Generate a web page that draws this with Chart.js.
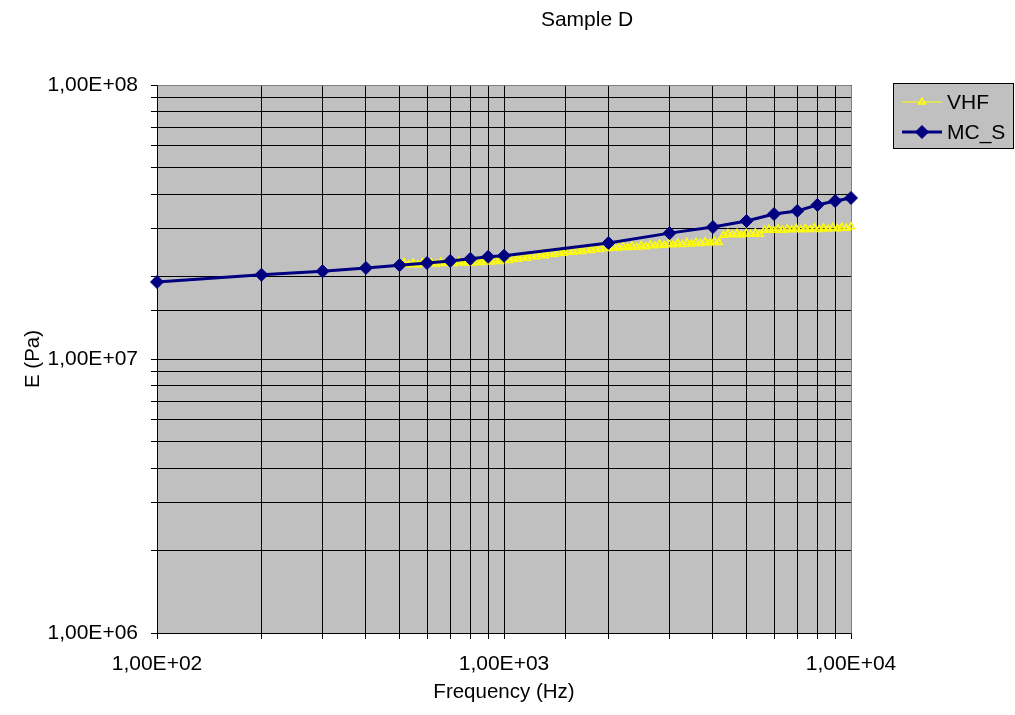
<!DOCTYPE html>
<html>
<head>
<meta charset="utf-8">
<script src="https://cdn.jsdelivr.net/npm/chart.js@4/dist/chart.umd.min.js"></script>
<style>
html,body{margin:0;padding:0;background:#fff;}
canvas{display:block;}
</style>
</head>
<body>
<canvas id="c" width="1015" height="715"></canvas>
<script>
const chartTitle = 'Sample D';
const xAxisTitle = 'Frequency (Hz)';
const yAxisTitle = 'E (Pa)';
const xTickValues = [100, 1000, 10000];
const xTickLabels = ['1,00E+02', '1,00E+03', '1,00E+04'];
const yTickValues = [1e6, 1e7, 1e8];
const yTickLabels = ['1,00E+06', '1,00E+07', '1,00E+08'];

const mcsName = 'MC_S';
const mcsFreq = [100, 200, 300, 400, 500, 600, 700, 800, 900, 1000, 2000, 3000, 4000, 5000, 6000, 7000, 8000, 9000, 10000];
const mcsE = [1.91e7, 2.03e7, 2.09e7, 2.15e7, 2.20e7, 2.24e7, 2.28e7, 2.32e7, 2.36e7, 2.38e7, 2.65e7, 2.88e7, 3.03e7, 3.19e7, 3.38e7, 3.47e7, 3.65e7, 3.77e7, 3.87e7];

const vhfName = 'VHF';
const vhfFreq = [500, 515, 531, 548, 564, 582, 600, 618, 637, 657,
  677, 698, 719, 741, 764, 787, 812, 837, 862, 889,
  916, 944, 973, 1003, 1034, 1066, 1098, 1132, 1167, 1203,
  1240, 1278, 1317, 1358, 1399, 1442, 1487, 1532, 1579, 1628,
  1678, 1729, 1782, 1837, 1894, 1952, 2012, 2074, 2137, 2203,
  2271, 2340, 2412, 2486, 2563, 2642, 2723, 2806, 2893, 2982,
  3073, 3168, 3265, 3365, 3469, 3575, 3685, 3798, 3915, 4035,
  4159, 4287, 4419, 4554, 4694, 4838, 4987, 5140, 5298, 5461,
  5629, 5802, 5980, 6164, 6353, 6548, 6750, 6957, 7171, 7391,
  7618, 7852, 8093, 8342, 8598, 8862, 9135, 9415, 9705, 10000];
const vhfE = [2.22e7, 2.25e7, 2.21e7, 2.24e7, 2.21e7, 2.25e7, 2.22e7, 2.25e7, 2.22e7, 2.26e7,
  2.23e7, 2.26e7, 2.23e7, 2.27e7, 2.24e7, 2.27e7, 2.24e7, 2.28e7, 2.25e7, 2.29e7,
  2.26e7, 2.30e7, 2.27e7, 2.31e7, 2.29e7, 2.33e7, 2.31e7, 2.36e7, 2.33e7, 2.38e7,
  2.36e7, 2.41e7, 2.38e7, 2.43e7, 2.41e7, 2.45e7, 2.43e7, 2.47e7, 2.45e7, 2.49e7,
  2.47e7, 2.51e7, 2.49e7, 2.53e7, 2.51e7, 2.55e7, 2.53e7, 2.57e7, 2.54e7, 2.58e7,
  2.55e7, 2.59e7, 2.56e7, 2.60e7, 2.57e7, 2.61e7, 2.59e7, 2.63e7, 2.60e7, 2.64e7,
  2.61e7, 2.65e7, 2.62e7, 2.66e7, 2.63e7, 2.67e7, 2.64e7, 2.68e7, 2.65e7, 2.69e7,
  2.66e7, 2.83e7, 2.87e7, 2.84e7, 2.88e7, 2.84e7, 2.88e7, 2.85e7, 2.89e7, 2.85e7,
  2.95e7, 2.98e7, 2.95e7, 2.99e7, 2.95e7, 2.99e7, 2.96e7, 3.00e7, 2.96e7, 3.00e7,
  2.97e7, 3.01e7, 2.97e7, 3.01e7, 2.98e7, 3.02e7, 2.99e7, 3.03e7, 3.00e7, 3.04e7];

const FONT = "'Liberation Sans', Arial, sans-serif";
const PLOT_BG = '#C0C0C0';

function labelFor(value, vals, labels) {
  for (let i = 0; i < vals.length; i++) {
    if (Math.abs(value / vals[i] - 1) < 1e-6) return labels[i];
  }
  return '';
}

function drawMarker(ctx, style, r, x, y) {
  if (style === 'triangle') {
    const w = r * Math.sqrt(3) / 2;
    ctx.moveTo(x, y - r);
    ctx.lineTo(x + w, y + r / 2);
    ctx.lineTo(x - w, y + r / 2);
    ctx.closePath();
  } else {
    ctx.moveTo(x, y - r);
    ctx.lineTo(x + r, y);
    ctx.lineTo(x, y + r);
    ctx.lineTo(x - r, y);
    ctx.closePath();
  }
}

const decorPlugin = {
  id: 'decor',
  beforeDraw(chart) {
    const {ctx, chartArea: a} = chart;
    ctx.save();
    ctx.fillStyle = '#fff';
    ctx.fillRect(0, 0, chart.width, chart.height);
    ctx.fillStyle = PLOT_BG;
    ctx.fillRect(a.left, a.top, a.right - a.left, a.bottom - a.top);
    ctx.restore();
  },
  beforeDatasetsDraw(chart) {
    const {ctx, chartArea: a} = chart;
    ctx.save();
    ctx.strokeStyle = '#808080';
    ctx.lineWidth = 1;
    ctx.beginPath();
    ctx.moveTo(Math.round(a.left) + 0.5, Math.round(a.top) + 0.5);
    ctx.lineTo(Math.round(a.right) + 0.5, Math.round(a.top) + 0.5);
    ctx.lineTo(Math.round(a.right) + 0.5, Math.round(a.bottom) + 0.5);
    ctx.stroke();
    ctx.restore();
  },
  afterDraw(chart) {
    const ctx = chart.ctx;
    ctx.save();
    ctx.fillStyle = '#000';
    ctx.font = '21px ' + FONT;
    ctx.textAlign = 'center';
    ctx.textBaseline = 'middle';
    ctx.fillText(chartTitle, 587, 20);
    ctx.fillStyle = PLOT_BG;
    ctx.fillRect(893.5, 83.5, 120, 65);
    ctx.strokeStyle = '#000';
    ctx.lineWidth = 1;
    ctx.strokeRect(893.5, 83.5, 120, 65);
    const rows = [
      {ds: chart.data.datasets[0], y: 102},
      {ds: chart.data.datasets[1], y: 132}
    ];
    rows.forEach(r => {
      const ds = r.ds;
      ctx.strokeStyle = ds.borderColor;
      ctx.lineWidth = ds.borderWidth;
      ctx.beginPath();
      ctx.moveTo(902, r.y);
      ctx.lineTo(942, r.y);
      ctx.stroke();
      ctx.save();
      ctx.fillStyle = ds.pointBackgroundColor;
      ctx.strokeStyle = ds.pointBorderColor;
      ctx.lineWidth = ds.pointBorderWidth;
      ctx.beginPath();
      drawMarker(ctx, ds.pointStyle, ds.pointRadius, 922, r.y);
      ctx.fill();
      ctx.stroke();
      ctx.restore();
      ctx.fillStyle = '#000';
      ctx.font = '21px ' + FONT;
      ctx.textAlign = 'left';
      ctx.textBaseline = 'middle';
      ctx.fillText(ds.label, 947, r.y + 1);
    });
    ctx.restore();
  }
};

const vhfData = vhfFreq.map((f, i) => ({x: f, y: vhfE[i]}));
const mcsData = mcsFreq.map((f, i) => ({x: f, y: mcsE[i]}));

new Chart(document.getElementById('c'), {
  type: 'line',
  data: {
    datasets: [
      {
        label: vhfName,
        data: vhfData,
        borderColor: '#FFFF00',
        backgroundColor: 'rgba(0,0,0,0)',
        borderWidth: 1,
        pointStyle: 'triangle',
        pointRadius: 4,
        pointBorderWidth: 1.5,
        pointBorderColor: '#FFFF00',
        pointBackgroundColor: 'rgba(0,0,0,0)',
        tension: 0,
        clip: false,
        order: 2
      },
      {
        label: mcsName,
        data: mcsData,
        borderColor: '#000080',
        backgroundColor: '#000080',
        borderWidth: 3,
        pointStyle: 'rectRot',
        pointRadius: 6.5,
        pointBorderWidth: 1,
        pointBorderColor: '#000080',
        pointBackgroundColor: '#000080',
        tension: 0,
        clip: false,
        order: 1
      }
    ]
  },
  options: {
    responsive: false,
    animation: false,
    events: [],
    layout: {padding: {left: 0, top: 85, right: 164, bottom: 0}},
    plugins: {
      legend: {display: false},
      title: {display: false},
      tooltip: {enabled: false}
    },
    scales: {
      x: {
        type: 'logarithmic',
        min: 100,
        max: 10000,
        afterFit(scale) { scale.height = 82; },
        grid: {color: '#000', lineWidth: 1, drawTicks: true, tickLength: 6, tickColor: '#000'},
        border: {color: '#000', width: 1},
        ticks: {
          autoSkip: false,
          maxRotation: 0,
          minRotation: 0,
          padding: 13,
          color: '#000',
          font: {family: FONT, size: 21},
          callback: (v) => labelFor(v, xTickValues, xTickLabels)
        },
        title: {display: true, text: xAxisTitle, color: '#000', font: {family: FONT, size: 20.5}, padding: {top: 0, bottom: 10}}
      },
      y: {
        type: 'logarithmic',
        min: 1e6,
        max: 1e8,
        afterFit(scale) { scale.width = 157; },
        grid: {color: '#000', lineWidth: 1, drawTicks: true, tickLength: 6, tickColor: '#000'},
        border: {color: '#000', width: 1},
        ticks: {
          autoSkip: false,
          padding: 13,
          color: '#000',
          font: {family: FONT, size: 21},
          callback: (v) => labelFor(v, yTickValues, yTickLabels)
        },
        title: {display: true, text: yAxisTitle, color: '#000', font: {family: FONT, size: 20.5}, padding: {top: 21, bottom: 0}}
      }
    }
  },
  plugins: [decorPlugin]
});
</script>
</body>
</html>
